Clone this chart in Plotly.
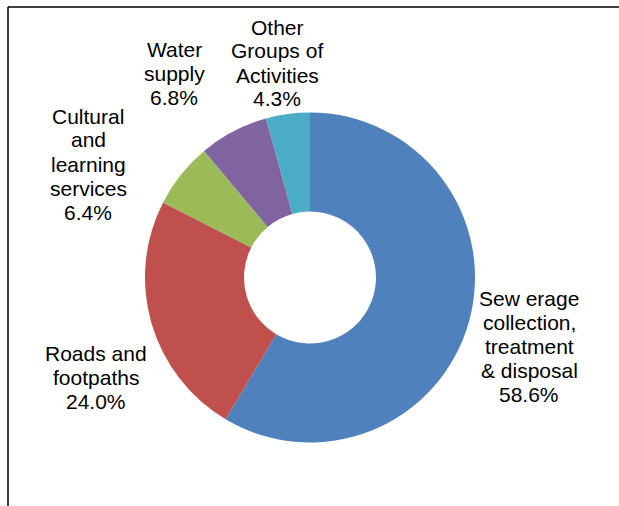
import plotly.graph_objects as go

# Spending share by group of activities
categories = [
    "Sew erage collection, treatment & disposal",
    "Roads and footpaths",
    "Cultural and learning services",
    "Water supply",
    "Other Groups of Activities",
]
shares = [58.6, 24.0, 6.4, 6.8, 4.3]
colors = ["#4F81BD", "#C0504D", "#9BBB59", "#8064A2", "#4BACC6"]

# Wrapped label lines (the percentage line is appended from the shares)
label_lines = [
    ["Sew erage", "collection,", "treatment", "& disposal"],
    ["Roads and", "footpaths"],
    ["Cultural", "and", "learning", "services"],
    ["Water", "supply"],
    ["Other", "Groups of", "Activities"],
]
# Label block placement in pixels: (x centre, y of first line)
label_pos = [(529, 298), (96, 353), (88, 116), (174, 49), (277, 27)]

W, H = 619, 506
LINE_STEP = 24
FONT = dict(family="Liberation Sans, Arial, sans-serif", size=21, color="#000000")

cx, cy, r = 310, 277.5, 165

fig = go.Figure(
    go.Pie(
        labels=categories,
        values=shares,
        sort=False,
        direction="clockwise",
        rotation=0,
        hole=0.4,
        marker=dict(colors=colors, line=dict(width=0)),
        textinfo="none",
        hoverinfo="label+percent",
        showlegend=False,
        domain=dict(
            x=[(cx - r) / W, (cx + r) / W],
            y=[(H - cy - r) / H, (H - cy + r) / H],
        ),
    )
)

annotations = []
for lines, val, (x, y0) in zip(label_lines, shares, label_pos):
    for i, t in enumerate(lines + [f"{val:.1f}%"]):
        annotations.append(
            dict(
                text=t,
                x=x / W,
                y=1 - (y0 + i * LINE_STEP) / H,
                xref="paper",
                yref="paper",
                xanchor="center",
                yanchor="middle",
                showarrow=False,
                font=FONT,
            )
        )

# Frame lines along the top and left edges
frame_y = 1 - 7 / H
frame_x = 8 / W
shapes = [
    dict(type="line", xref="paper", yref="paper", x0=frame_x, x1=1.0,
         y0=frame_y, y1=frame_y, line=dict(color="#000000", width=1.5)),
    dict(type="line", xref="paper", yref="paper", x0=frame_x, x1=frame_x,
         y0=0, y1=frame_y, line=dict(color="#000000", width=1.5)),
]

fig.update_layout(
    width=W,
    height=H,
    margin=dict(l=0, r=0, t=0, b=0),
    paper_bgcolor="#FFFFFF",
    plot_bgcolor="#FFFFFF",
    annotations=annotations,
    shapes=shapes,
)

fig.write_html("out.html")
